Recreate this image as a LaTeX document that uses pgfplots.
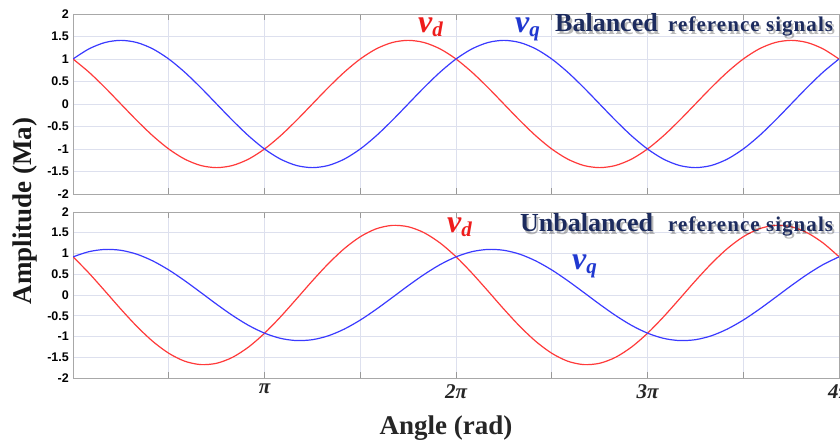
\documentclass[border=0pt]{standalone}
\usepackage{fontspec}
\setmainfont{Liberation Serif}
\newfontfamily\ticksans{Liberation Sans}
\usepackage{pgfplots}
\usepackage{pgfplotstable}
\pgfplotsset{compat=1.18}
\usetikzlibrary{calc}

\definecolor{vdred}{HTML}{FF3A3A}
\definecolor{vqblue}{HTML}{3A3AFF}
\definecolor{gridc}{HTML}{DDE0EE}
\definecolor{framec}{HTML}{A8A8A8}
\definecolor{navy}{HTML}{1C2B5E}
\definecolor{vdtext}{HTML}{EE1C1C}
\definecolor{vqtext}{HTML}{2038D0}

% x in units of pi
\pgfplotstableread{
x      vd       vq
0      1        1
0.0833 0.7071   1.2247
0.1667 0.3660   1.3660
0.25   0        1.4142
0.3333 -0.3660  1.3660
0.4167 -0.7071  1.2247
0.5    -1       1
0.5833 -1.2247  0.7071
0.6667 -1.3660  0.3660
0.75   -1.4142  0
0.8333 -1.3660  -0.3660
0.9167 -1.2247  -0.7071
1      -1       -1
1.0833 -0.7071  -1.2247
1.1667 -0.3660  -1.3660
1.25   0        -1.4142
1.3333 0.3660   -1.3660
1.4167 0.7071   -1.2247
1.5    1        -1
1.5833 1.2247   -0.7071
1.6667 1.3660   -0.3660
1.75   1.4142   0
1.8333 1.3660   0.3660
1.9167 1.2247   0.7071
2      1        1
2.0833 0.7071   1.2247
2.1667 0.3660   1.3660
2.25   0        1.4142
2.3333 -0.3660  1.3660
2.4167 -0.7071  1.2247
2.5    -1       1
2.5833 -1.2247  0.7071
2.6667 -1.3660  0.3660
2.75   -1.4142  0
2.8333 -1.3660  -0.3660
2.9167 -1.2247  -0.7071
3      -1       -1
3.0833 -0.7071  -1.2247
3.1667 -0.3660  -1.3660
3.25   0        -1.4142
3.3333 0.3660   -1.3660
3.4167 0.7071   -1.2247
3.5    1        -1
3.5833 1.2247   -0.7071
3.6667 1.3660   -0.3660
3.75   1.4142   0
3.8333 1.3660   0.3660
3.9167 1.2247   0.7071
4      1        1
}\balanced

\pgfplotstableread{
x      vd       vq
0      0.922    0.919
0.0833 0.528    1.044
0.1667 0.097    1.098
0.25   -0.341   1.077
0.3333 -0.755   0.983
0.4167 -1.118   0.821
0.5    -1.404   0.604
0.5833 -1.595   0.345
0.6667 -1.677   0.063
0.75   -1.645   -0.223
0.8333 -1.501   -0.494
0.9167 -1.254   -0.732
1      -0.922   -0.919
1.0833 -0.528   -1.044
1.1667 -0.097   -1.098
1.25   0.341    -1.077
1.3333 0.755    -0.983
1.4167 1.118    -0.821
1.5    1.404    -0.604
1.5833 1.595    -0.345
1.6667 1.677    -0.063
1.75   1.645    0.223
1.8333 1.501    0.494
1.9167 1.254    0.732
2      0.922    0.919
2.0833 0.528    1.044
2.1667 0.097    1.098
2.25   -0.341   1.077
2.3333 -0.755   0.983
2.4167 -1.118   0.821
2.5    -1.404   0.604
2.5833 -1.595   0.345
2.6667 -1.677   0.063
2.75   -1.645   -0.223
2.8333 -1.501   -0.494
2.9167 -1.254   -0.732
3      -0.922   -0.919
3.0833 -0.528   -1.044
3.1667 -0.097   -1.098
3.25   0.341    -1.077
3.3333 0.755    -0.983
3.4167 1.118    -0.821
3.5    1.404    -0.604
3.5833 1.595    -0.345
3.6667 1.677    -0.063
3.75   1.645    0.223
3.8333 1.501    0.494
3.9167 1.254    0.732
4      0.922    0.919
}\unbalanced

\pgfplotsset{
  sigaxis/.style={
    scale only axis,
    width=766pt,
    xmin=0, xmax=4, ymin=-2, ymax=2,
    xtick={0,0.5,...,4},
    ytick={-2,-1.5,-1,-0.5,0,0.5,1,1.5,2},
    yticklabels={-2,-1.5,-1,-0.5,0,0.5,1,1.5,2},
    grid=major,
    grid style={color=gridc, line width=0.7pt},
    axis line style={color=framec, line width=0.9pt},
    tick style={color=gray!80, line width=0.7pt},
    tick align=inside,
    major tick length=6pt,
    ytick style={draw=none},
    yticklabel style={font=\ticksans\bfseries\fontsize{12.5}{12.5}\selectfont, inner sep=0pt, xshift=-4pt},
    xticklabel style={font=\bfseries\itshape\fontsize{21}{21}\selectfont, text=black!85, inner sep=0pt, yshift=-6pt},
  },
  sig/.style={smooth, line width=1.2pt, no markers},
}

% note label with a soft drop shadow
\newcommand{\shadowtext}[3]{%
  \node[anchor=base west, inner sep=0pt, text=black, opacity=0.28] at ($(#1)+(2pt,-3pt)$) {#2};%
  \node[anchor=base west, inner sep=0pt, text=#3] at (#1) {#2};%
}

\newcommand{\bigword}[1]{{\bfseries\fontsize{26}{26}\selectfont #1}}
\newcommand{\smallword}[1]{{\bfseries\fontsize{21}{21}\selectfont\addfontfeature{LetterSpace=5}#1}}
\newcommand{\sig}[2]{{\bfseries\itshape\fontsize{32}{32}\selectfont v}\raisebox{-4pt}{\bfseries\itshape\fontsize{21}{21}\selectfont #2}}

\begin{document}
\begin{tikzpicture}[x=1pt,y=1pt]
\clip (0,0) rectangle (840,-443);
\fill[white] (0,0) rectangle (840,-443);

\begin{axis}[sigaxis, height=180pt, at={(73pt,-14pt)}, anchor=north west,
  xticklabels={}]
  \addplot[sig, color=vdred] table[x=x, y=vd] {\balanced};
  \addplot[sig, color=vqblue] table[x=x, y=vq] {\balanced};
\end{axis}

\begin{axis}[sigaxis, height=166pt, at={(73pt,-212pt)}, anchor=north west,
  xticklabels={{},{},π,{},2π,{},3π,{},4π}]
  \addplot[sig, color=vdred] table[x=x, y=vd] {\unbalanced};
  \addplot[sig, color=vqblue] table[x=x, y=vq] {\unbalanced};
\end{axis}

% axis titles
\node[rotate=90, font=\bfseries\fontsize{27}{27}\selectfont, text=black!90] at (25,-211) {Amplitude (Ma)};
\node[font=\bfseries\fontsize{27}{27}\selectfont, text=black!85] at (446,-428) {Angle (rad)};

% panel notes
\node[anchor=base west, inner sep=0pt, text=vdtext] at (418,-33) {\sig{v}{d}};
\node[anchor=base west, inner sep=0pt, text=vqtext] at (515,-33) {\sig{v}{q}};
\shadowtext{555,-32}{\bigword{Balanced}}{navy}
\shadowtext{668,-32}{\smallword{reference signals}}{navy}

\node[anchor=base west, inner sep=0pt, text=vdtext] at (447,-233) {\sig{v}{d}};
\node[anchor=base west, inner sep=0pt, text=vqtext] at (572,-270) {\sig{v}{q}};
\shadowtext{520,-232}{\bigword{Unbalanced}}{navy}
\shadowtext{668,-232}{\smallword{reference signals}}{navy}
\end{tikzpicture}
\end{document}
